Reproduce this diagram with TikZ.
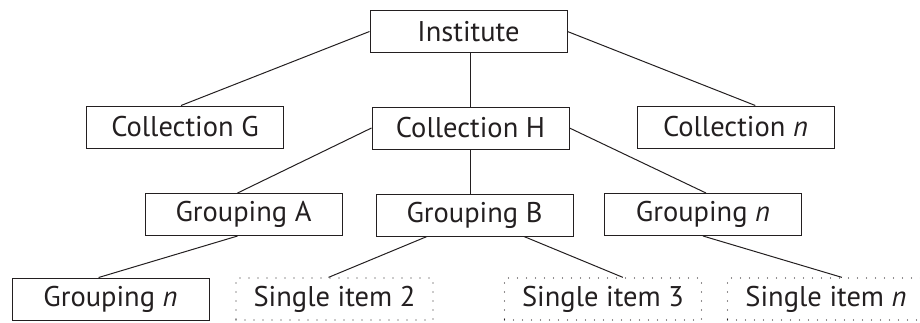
\documentclass[tikz,border=0pt]{standalone}
\usepackage{fontspec}
\setmainfont{PT Sans}
\usetikzlibrary{calc}
\definecolor{ink}{HTML}{231F20}
\tikzset{
  unit/.style={draw=ink, line width=1pt, minimum width=197pt, minimum height=42pt,
    inner sep=0pt, text=ink, font=\fontsize{28.5}{31}\selectfont},
  itembox/.style={unit, draw=ink, line width=1.3pt, dash pattern=on 0pt off 9pt, line cap=round},
  link/.style={draw=ink, line width=1pt},
}
\begin{document}
\begin{tikzpicture}[x=1pt, y=-1pt]
\useasboundingbox (0,0) rectangle (920,322);

% top level
\node[unit] (inst) at (468.5,31.5) {Institute};

% collections
\node[unit] (colG) at (185,127) {Collection G};
\node[unit] (colH) at (470.5,128) {Collection H};
\node[unit] (colN) at (735.5,127) {Collection \textit{n}};

% groupings
\node[unit] (grpA) at (243.5,214.5) {Grouping A};
\node[unit] (grpB) at (474.5,215) {Grouping B};
\node[unit] (grpN) at (703,214.5) {Grouping \textit{n}};

% bottom row
\node[unit] (subN) at (110.5,299) {Grouping \textit{n}};
\node[itembox] (si2) at (334.5,299) {Single item 2};
\node[itembox] (si3) at (603,299) {Single item 3};
\node[itembox] (siN) at (826,299) {Single item \textit{n}};

% connectors
\draw[link] (inst.west) -- ($(colG.north west)!0.48!(colG.north east)$);
\draw[link] (colH.north |- inst.south) -- (colH.north);
\draw[link] (inst.east) -- ($(colN.north west)!0.6!(colN.north east)$);

\draw[link] (colH.west) -- ($(grpA.north west)!0.47!(grpA.north east)$);
\draw[link] (colH.south) -- (colH.south |- grpB.north);
\draw[link] (colH.east) -- ($(grpN.north west)!0.515!(grpN.north east)$);

\draw[link] ($(grpA.south west)!0.47!(grpA.south east)$) -- ($(subN.north west)!0.44!(subN.north east)$);
\draw[link] ($(grpB.south west)!0.26!(grpB.south east)$) -- ($(si2.north west)!0.47!(si2.north east)$);
\draw[link] ($(grpB.south west)!0.75!(grpB.south east)$) -- ($(si3.north west)!0.6!(si3.north east)$);
\draw[link] (grpN.south) -- ($(siN.north west)!0.58!(siN.north east)$);
\end{tikzpicture}
\end{document}
